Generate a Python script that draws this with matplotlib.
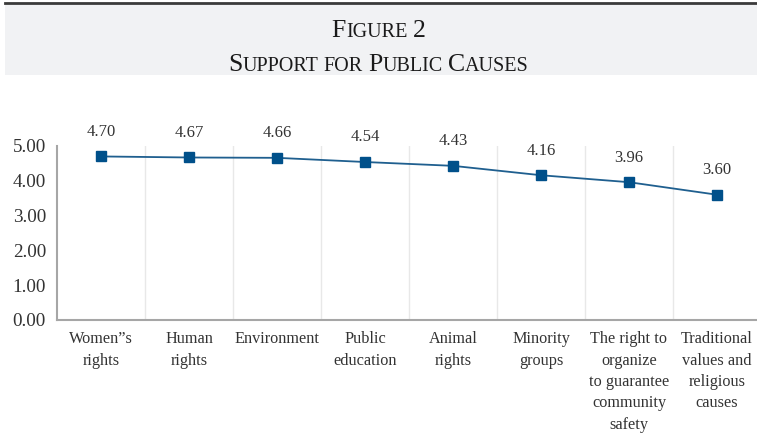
import matplotlib.pyplot as plt
from matplotlib.patches import Rectangle
from matplotlib.lines import Line2D

plt.rcParams['font.family'] = ['Liberation Serif', 'DejaVu Serif']

# data
categories = ["Women\u201ds\nrights", "Human\nrights", "Environment", "Public\neducation",
              "Animal\nrights", "Minority\ngroups",
              "The right to\norganize\nto guarantee\ncommunity\nsafety",
              "Traditional\nvalues and\nreligious\ncauses"]
support = [4.70, 4.67, 4.66, 4.54, 4.43, 4.16, 3.96, 3.60]
yticks = [0, 1, 2, 3, 4, 5]

line_color = '#1f5f8f'
marker_color = '#00508a'

fig = plt.figure(figsize=(7.57, 4.34), dpi=100)

# header band
fig.patches.append(Rectangle((5 / 757, 1 - 75 / 434), 1, 70 / 434, transform=fig.transFigure,
                             facecolor='#f1f2f4', edgecolor='none', zorder=0))
fig.lines.append(Line2D([5 / 757, 1], [1 - 3 / 434, 1 - 3 / 434], transform=fig.transFigure,
                        color='#3a3a3a', lw=2))


def small_caps(words, y, big=18.5, small=14.5):
    # words: list of (word, capitalise_first); drawn centred, baseline aligned
    r = fig.canvas.get_renderer()
    pieces = []
    for i, (word, cap) in enumerate(words):
        if i > 0:
            pieces.append((' ', small))
        if cap:
            pieces.append((word[0], big))
            if len(word) > 1:
                pieces.append((word[1:], small))
        else:
            pieces.append((word, small))
    widths = []
    for s, fs in pieces:
        t = fig.text(0, 0, s.replace(' ', '\u00a0'), fontsize=fs)
        widths.append(t.get_window_extent(r).width)
        t.remove()
    W = fig.bbox.width
    x = 0.5 - sum(widths) / W / 2
    for (s, fs), w in zip(pieces, widths):
        fig.text(x, y, s.replace(' ', '\u00a0'), fontsize=fs, va='baseline', ha='left', color='#1a1a1a')
        x += w / W


small_caps([("FIGURE", True), ("2", True)], 1 - 37 / 434)
small_caps([("SUPPORT", True), ("FOR", False), ("PUBLIC", True), ("CAUSES", True)], 1 - 71 / 434)

ax = fig.add_axes([57 / 757, 1 - 320 / 434, 704 / 757, 174 / 434])
x = list(range(len(categories)))
ax.plot(x, support, color=line_color, lw=1.3, marker='s', ms=6.5,
        markerfacecolor=marker_color, markeredgecolor=marker_color, zorder=3)
for xi, v in zip(x, support):
    ax.annotate(f"{v:.2f}", (xi, v), xytext=(0, 12), textcoords='offset points',
                ha='center', va='bottom', fontsize=12, color='#333333')

ax.set_xlim(-0.5, len(categories) - 0.5)
ax.set_ylim(0, 5)
ax.set_yticks(yticks)
ax.set_yticklabels([f"{v:.2f}" for v in yticks], fontsize=13.8, color='#333333')
ax.set_xticks(x)
ax.set_xticklabels(categories, fontsize=11.7, color='#333333', linespacing=1.45, va='top')
ax.tick_params(length=0, pad=8)
ax.tick_params(axis='y', pad=8)

for b in [i + 0.5 for i in range(len(categories) - 1)]:
    ax.axvline(b, color='#e8e8e8', lw=1, zorder=0)

for s in ['top', 'right']:
    ax.spines[s].set_visible(False)
for s in ['left', 'bottom']:
    ax.spines[s].set_color('#a6a6a6')
    ax.spines[s].set_linewidth(1.5)

fig.savefig('out.png', dpi=100)
